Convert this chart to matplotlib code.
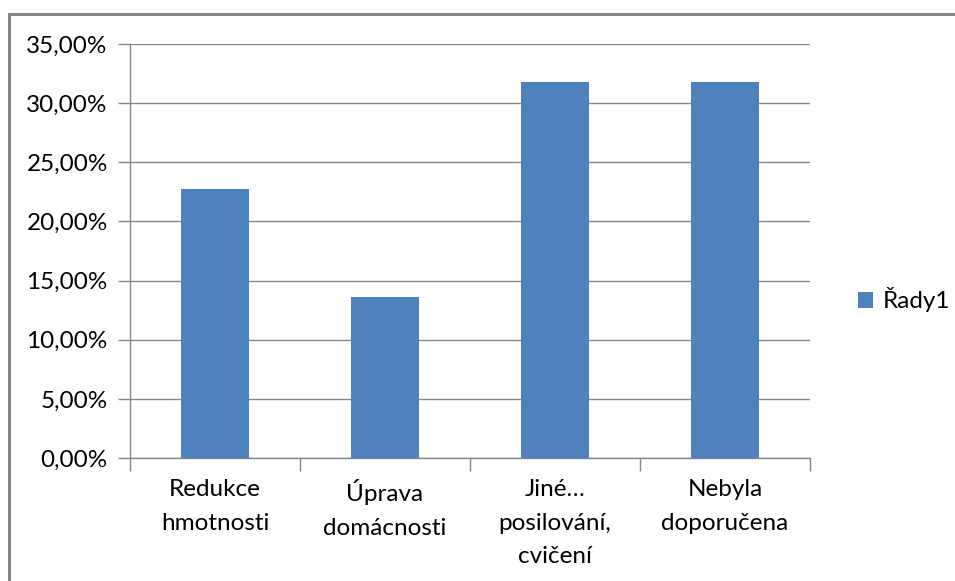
import matplotlib
matplotlib.use("Agg")
import matplotlib.pyplot as plt
from matplotlib.patches import Rectangle
from matplotlib.ticker import FuncFormatter, MultipleLocator

categories = ["Redukce\nhmotnosti", "Úprava\ndomácnosti", "Jiné…\nposilování,\ncvičení", "Nebyla\ndoporučena"]
values = [22.73, 13.64, 31.82, 31.82]
series_name = "Řady1"

plt.rcParams["font.family"] = ["Lato", "DejaVu Sans"]

W, H = 955, 581
fig = plt.figure(figsize=(W / 100, H / 100), dpi=100)
fig.patch.set_facecolor("white")

# outer chart-area border
fig.add_artist(Rectangle((8.5 / W, -0.1), 1.2, (H - 13.5) / H + 0.1,
                         transform=fig.transFigure, fill=False,
                         edgecolor="#868686", linewidth=2.2))

ax = fig.add_axes([130 / W, (H - 458) / H, 680 / W, 414 / H])
bar_color = "#4F81BD"
grid_color = "#868686"
fs = 17.5

x = list(range(len(categories)))
ax.bar(x, values, width=0.4, color=bar_color, label=series_name, zorder=3)

ax.set_xlim(-0.5, len(categories) - 0.5)
ax.set_ylim(0, 35)
ax.yaxis.set_major_locator(MultipleLocator(5))
ax.yaxis.set_major_formatter(FuncFormatter(lambda v, p: f"{v:.2f}%".replace(".", ",")))
ax.yaxis.grid(True, color=grid_color, linewidth=1.0, zorder=0)

for s in ("top", "right"):
    ax.spines[s].set_visible(False)
for s in ("left", "bottom"):
    ax.spines[s].set_color(grid_color)
    ax.spines[s].set_linewidth(1.0)

ax.tick_params(axis="y", length=9, width=1.0, color=grid_color, pad=7,
               labelsize=fs, labelcolor="black")

# category labels centred under bars, tick marks on category boundaries
ax.set_xticks(x)
ax.set_xticklabels(categories, fontsize=fs, linespacing=1.75)
ax.tick_params(axis="x", which="major", length=0, pad=15)
ax.set_xticks([i - 0.5 for i in range(len(categories) + 1)], minor=True)
ax.tick_params(axis="x", which="minor", length=9, width=1.0, color=grid_color)

leg = fig.legend(loc="center left", bbox_to_anchor=(846 / W, (H - 300) / H),
                 frameon=False, fontsize=fs, handlelength=0.6, handleheight=0.6,
                 handletextpad=0.4, borderpad=0)

fig.savefig("out.png", dpi=100, facecolor="white")
